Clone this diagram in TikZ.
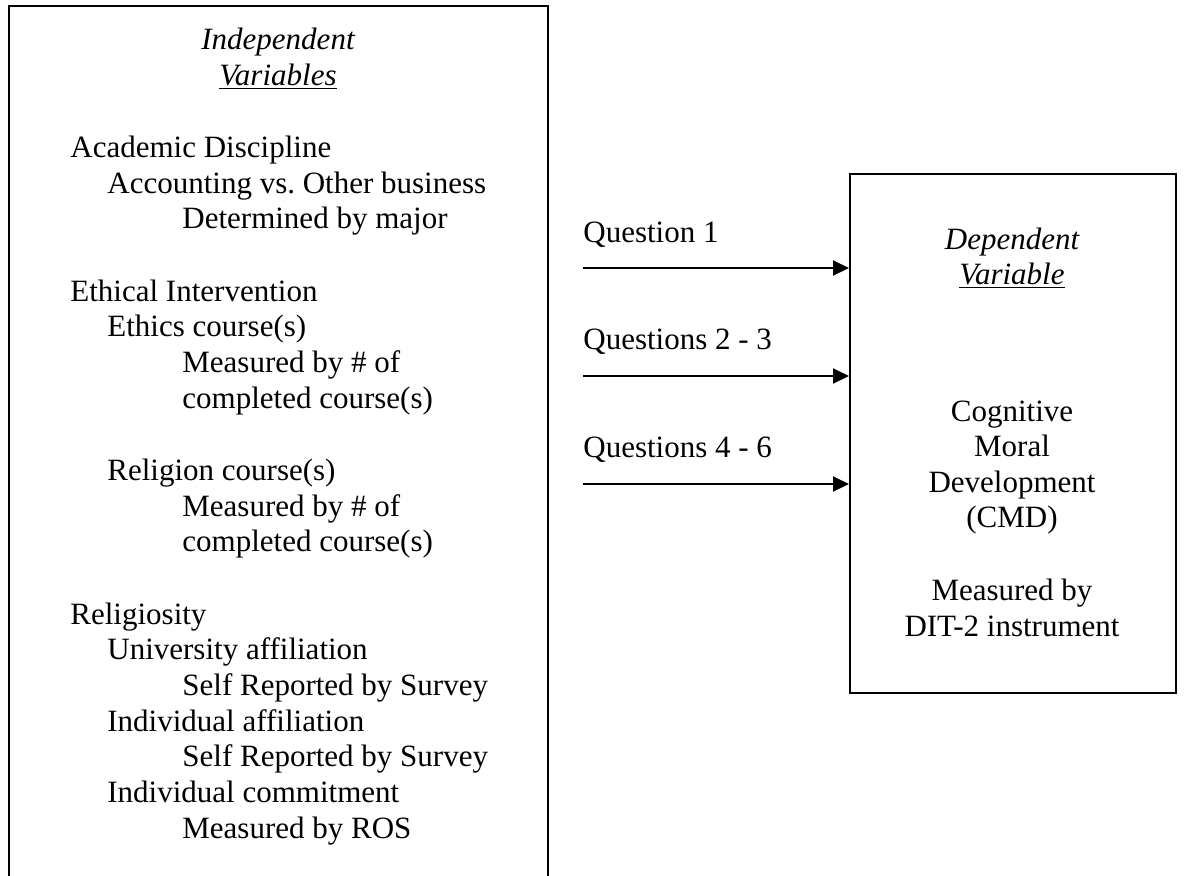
\documentclass[tikz,border=0pt]{standalone}
\usepackage{fontspec}
\setmainfont{Liberation Serif}
\usetikzlibrary{arrows.meta,calc}
\begin{document}
\frenchspacing
\begin{tikzpicture}[x=0.5pt,y=-0.5pt,
  box/.style={draw,line width=1pt,inner sep=0pt},
  txt/.style={anchor=base west,inner sep=0pt,font=\fontsize{15.5}{18}\selectfont},
  ctxt/.style={anchor=base,inner sep=0pt,font=\fontsize{15.5}{18}\selectfont},
  arr/.style={line width=1pt,-{Triangle[length=8pt,width=7.5pt]}}]
\useasboundingbox (0,0) rectangle (1201,875);
\clip (0,0) rectangle (1201,875);
% boxes
\draw[line width=1pt] (9,900) -- (9,6) -- (548,6) -- (548,900);
\node[box,minimum width=326*0.5pt,minimum height=519*0.5pt,anchor=north west] (dep) at (849,173) {};
% left box text
\node[ctxt] (iv1) at (278,49) {\itshape Independent};
\node[ctxt] (iv2) at (278,85) {\itshape\underline{Variables}};
\node[txt] (a1) at (70,157) {Academic Discipline};
\node[txt] (a2) at (107,193) {Accounting vs. Other business};
\node[txt] (a3) at (182,228) {Determined by major};
\node[txt] (b1) at (70,301) {Ethical Intervention};
\node[txt] (b2) at (107,336) {Ethics course(s)};
\node[txt] (b3) at (182,372) {Measured by \# of};
\node[txt] (b4) at (182,408) {completed course(s)};
\node[txt] (b5) at (107,480) {Religion course(s)};
\node[txt] (b6) at (182,516) {Measured by \# of};
\node[txt] (b7) at (182,551) {completed course(s)};
\node[txt] (c1) at (70,624) {Religiosity};
\node[txt] (c2) at (107,659) {University affiliation};
\node[txt] (c3) at (182,695) {Self Reported by Survey};
\node[txt] (c4) at (107,731) {Individual affiliation};
\node[txt] (c5) at (182,766) {Self Reported by Survey};
\node[txt] (c6) at (107,802) {Individual commitment};
\node[txt] (c7) at (182,838) {Measured by ROS};
% question labels
\node[txt] (q1) at (583,242) {Question 1};
\node[txt] (q2) at (583,349) {Questions 2 - 3};
\node[txt] (q3) at (583,457) {Questions 4 - 6};
% right box text
\node[ctxt] (dv1) at (1012,249) {\itshape Dependent};
\node[ctxt] (dv2) at (1012,284) {\itshape\underline{Variable}};
\node[ctxt] (d1) at (1012,421) {Cognitive};
\node[ctxt] (d2) at (1012,456) {Moral};
\node[ctxt] (d3) at (1012,492) {Development};
\node[ctxt] (d4) at (1012,527) {(CMD)};
\node[ctxt] (d5) at (1012,600) {Measured by};
\node[ctxt] (d6) at (1012,636) {DIT-2 instrument};
% arrows
\coordinate (s1) at (583,268);
\coordinate (s2) at (583,376);
\coordinate (s3) at (583,484);
\draw[arr] (s1) -- (s1 -| dep.west);
\draw[arr] (s2) -- (s2 -| dep.west);
\draw[arr] (s3) -- (s3 -| dep.west);
\end{tikzpicture}
\end{document}
